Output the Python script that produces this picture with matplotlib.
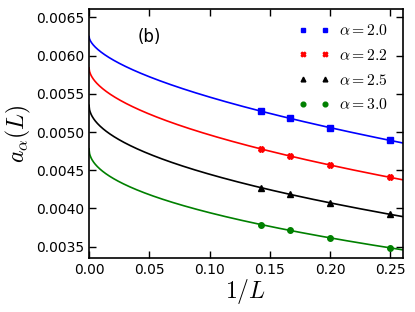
import numpy as np
import matplotlib
matplotlib.use("Agg")
import matplotlib.pyplot as plt

plt.rcParams['mathtext.fontset'] = 'cm'

# 1/L values of the data points (L = 7, 6, 5, 4)
inv_L = np.array([1/7, 1/6, 1/5, 1/4])

alphas = ['2.0', '2.2', '2.5', '3.0']
a_20 = [0.005273, 0.005179, 0.005052, 0.004892]
a_22 = [0.004779, 0.004685, 0.004563, 0.004408]
a_25 = [0.004272, 0.004182, 0.004070, 0.003923]
a_30 = [0.003787, 0.003712, 0.003614, 0.003482]
# extrapolated L -> infinity values (read at 1/L = 0)
a_inf = [0.00625, 0.00584, 0.00535, 0.00478]

series = [a_20, a_22, a_25, a_30]
colors = ['b', 'r', 'k', 'g']
markers = ['s', 'X', '^', 'o']

fig = plt.figure(figsize=(4.15, 3.12), dpi=100)
ax = fig.add_axes([0.2145, 0.173, 0.7555, 0.798])

xfit = np.linspace(0, 0.26, 600)
for al, y, a0, c, m in zip(alphas, series, a_inf, colors, markers):
    y = np.array(y)
    # fit a0 - y = B * x^p
    p, logB = np.polyfit(np.log(inv_L), np.log(a0 - y), 1)
    ax.plot(xfit, a0 - np.exp(logB) * xfit ** p, color=c, lw=1.2)
    ax.plot(inv_L, y, ls='none', marker=m, color=c, ms=4,
            label=r'$\alpha=%s$' % al)

ax.set_xlim(0, 0.26)
ax.set_ylim(0.00335, 0.00661)
ax.set_xticks([0, 0.05, 0.10, 0.15, 0.20, 0.25])
ax.set_xticklabels(['0.00', '0.05', '0.10', '0.15', '0.20', '0.25'])
ax.set_yticks([0.0035, 0.0040, 0.0045, 0.0050, 0.0055, 0.0060, 0.0065])
ax.set_yticklabels(['0.0035', '0.0040', '0.0045', '0.0050', '0.0055', '0.0060', '0.0065'])
ax.tick_params(direction='in', top=True, right=True, labelsize=10, length=5, width=1)
for s in ax.spines.values():
    s.set_linewidth(1.2)

ax.set_xlabel(r'$1/L$', fontsize=17, labelpad=0)
ax.set_ylabel(r'$a_\alpha(L)$', fontsize=17, labelpad=2)
ax.text(0.04, 0.00618, '(b)', fontsize=12)

ax.legend(loc='upper right', numpoints=2, frameon=False, fontsize=11.3,
          handlelength=2.0, labelspacing=0.62, borderaxespad=0.5, handletextpad=0.6,
          markerscale=0.85)

fig.savefig('out.png', dpi=100)
